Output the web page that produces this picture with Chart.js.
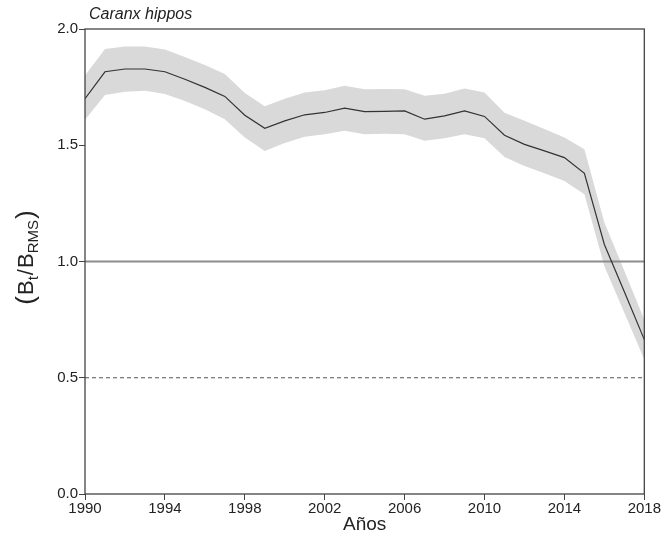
<!DOCTYPE html>
<html>
<head>
<meta charset="utf-8">
<script src="https://cdn.jsdelivr.net/npm/chart.js@4.4.1/dist/chart.umd.min.js"></script>
<style>
  html, body { margin: 0; padding: 0; background: #fff; }
  #wrap { width: 661px; height: 548px; }
</style>
</head>
<body>
<div id="wrap"><canvas id="chart" width="661" height="548"></canvas></div>
<script>
// Biomass ratio Bt/BRMS per year, with its uncertainty band
const years = [1990, 1991, 1992, 1993, 1994, 1995, 1996, 1997, 1998, 1999,
               2000, 2001, 2002, 2003, 2004, 2005, 2006, 2007, 2008, 2009,
               2010, 2011, 2012, 2013, 2014, 2015, 2016, 2017, 2018];
const ratio = [1.700, 1.816, 1.828, 1.828, 1.816, 1.784, 1.749, 1.710, 1.629, 1.573,
               1.605, 1.631, 1.641, 1.660, 1.645, 1.646, 1.648, 1.612, 1.626, 1.648,
               1.624, 1.543, 1.504, 1.476, 1.447, 1.379, 1.073, 0.870, 0.664];
const upper = [1.800, 1.914, 1.925, 1.925, 1.912, 1.880, 1.845, 1.806, 1.725, 1.668,
               1.700, 1.727, 1.737, 1.756, 1.741, 1.742, 1.741, 1.713, 1.722, 1.744,
               1.727, 1.640, 1.605, 1.570, 1.533, 1.483, 1.168, 0.960, 0.750];
const lower = [1.610, 1.716, 1.730, 1.734, 1.720, 1.690, 1.655, 1.612, 1.533, 1.475,
               1.510, 1.537, 1.547, 1.562, 1.547, 1.549, 1.547, 1.519, 1.530, 1.547,
               1.530, 1.450, 1.411, 1.380, 1.346, 1.289, 0.980, 0.780, 0.578];
const refLevel = 1.0;    // BRMS
const limitLevel = 0.5;  // limit reference
const yTicks = [0, 0.5, 1.0, 1.5, 2.0];

const toPoints = vals => vals.map((v, i) => ({ x: years[i], y: v }));
const span = v => [{ x: years[0], y: v }, { x: years[years.length - 1], y: v }];

const FONT = "'Liberation Sans', Arial, sans-serif";

// frame, species name and y axis label with subscripts
const decorations = {
    id: 'decorations',
    afterDraw(chart) {
        const { ctx, chartArea: a } = chart;
        ctx.save();
        ctx.strokeStyle = '#444';
        ctx.lineWidth = 1.3;
        ctx.strokeRect(a.left, a.top, a.right - a.left, a.bottom - a.top);

        ctx.fillStyle = '#222';
        ctx.font = `italic 16px ${FONT}`;
        ctx.textBaseline = 'alphabetic';
        ctx.textAlign = 'left';
        ctx.fillText('Caranx hippos', 89, 19);

        // rotated "(Bt/BRMS)"
        const parts = [
            { t: '(', f: `26px ${FONT}`, dy: 1, gap: 1 },
            { t: 'B', f: `22px ${FONT}`, dy: 0, gap: 0 },
            { t: 't', f: `15px ${FONT}`, dy: 5, gap: 1 },
            { t: '/', f: `22px ${FONT}`, dy: 0, gap: 1 },
            { t: 'B', f: `22px ${FONT}`, dy: 0, gap: 0 },
            { t: 'RMS', f: `15px ${FONT}`, dy: 5, gap: 1 },
            { t: ')', f: `26px ${FONT}`, dy: 1, gap: 0 }
        ];
        let total = 0;
        parts.forEach(p => { ctx.font = p.f; p.w = ctx.measureText(p.t).width + p.gap; total += p.w; });
        ctx.translate(33, (a.top + a.bottom) / 2 - 4);
        ctx.rotate(-Math.PI / 2);
        let x = -total / 2;
        parts.forEach(p => {
            ctx.font = p.f;
            ctx.fillText(p.t, x, p.dy);
            x += p.w;
        });
        ctx.restore();
    }
};

new Chart(document.getElementById('chart').getContext('2d'), {
    type: 'line',
    data: {
        datasets: [
            {
                label: 'Bt/BRMS',
                data: toPoints(ratio),
                borderColor: '#333',
                borderWidth: 1.2,
                pointRadius: 0,
                fill: false,
                tension: 0
            },
            {
                label: 'BRMS',
                data: span(refLevel),
                borderColor: '#8c8c8c',
                borderWidth: 1.8,
                pointRadius: 0,
                fill: false
            },
            {
                label: 'limite',
                data: span(limitLevel),
                borderColor: '#555',
                borderWidth: 1,
                borderDash: [4, 3],
                pointRadius: 0,
                fill: false
            },
            {
                label: 'upper',
                data: toPoints(upper),
                borderWidth: 0,
                borderColor: 'rgba(0,0,0,0)',
                backgroundColor: '#d9d9d9',
                pointRadius: 0,
                fill: '+1'
            },
            {
                label: 'lower',
                data: toPoints(lower),
                borderWidth: 0,
                borderColor: 'rgba(0,0,0,0)',
                pointRadius: 0,
                fill: false
            }
        ]
    },
    options: {
        responsive: false,
        animation: false,
        layout: { padding: { top: 29, right: 16, bottom: 8, left: 0 } },
        plugins: {
            legend: { display: false },
            tooltip: { enabled: false }
        },
        scales: {
            x: {
                type: 'linear',
                min: 1990,
                max: 2018,
                grid: { drawOnChartArea: false, drawTicks: true, tickLength: 6, color: '#444' },
                border: { display: false },
                ticks: {
                    stepSize: 4,
                    padding: 0,
                    maxRotation: 0,
                    color: '#222',
                    font: { family: FONT, size: 15 },
                    callback: v => String(v)
                },
                title: {
                    display: true,
                    text: 'Años',
                    color: '#222',
                    font: { family: FONT, size: 19 },
                    padding: { top: 4, bottom: 4 }
                },
                afterFit: s => { s.height = 46; }
            },
            y: {
                min: 0,
                max: 2,
                grid: { drawOnChartArea: false, drawTicks: true, tickLength: 6, color: '#444' },
                border: { display: false },
                afterBuildTicks: s => { s.ticks = yTicks.map(v => ({ value: v })); },
                ticks: {
                    padding: 1,
                    color: '#222',
                    font: { family: FONT, size: 15 },
                    callback: v => v.toFixed(1)
                },
                afterFit: s => { s.width = 85; }
            }
        }
    },
    plugins: [decorations]
});
</script>
</body>
</html>
